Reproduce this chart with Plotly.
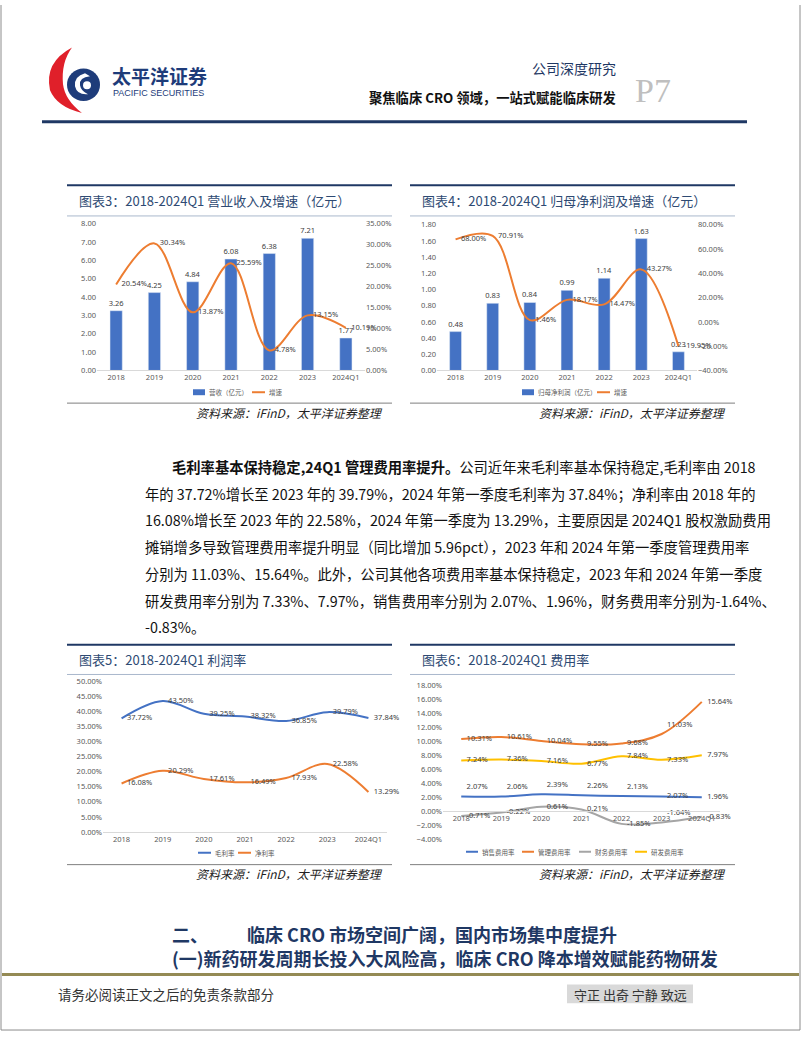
import plotly.graph_objects as go

W, H = 802, 1037
def X(px): return px / W
def Y(py): return 1 - py / H

years = ["2018", "2019", "2020", "2021", "2022", "2023", "2024Q1"]
# Chart 3
revenue = [3.26, 4.25, 4.84, 6.08, 6.38, 7.21, 1.77]
revenue_growth = [20.54, 30.34, 13.87, 25.59, 4.78, 13.15, 10.19]
# Chart 4
net_profit = [0.48, 0.83, 0.84, 0.99, 1.14, 1.63, 0.23]
profit_growth = [68.00, 70.91, 1.46, 18.17, 14.47, 43.27, -19.95]
# Chart 5
gross_margin = [37.72, 43.50, 39.25, 38.32, 36.85, 39.79, 37.84]
net_margin = [16.08, 20.29, 17.61, 16.49, 17.93, 22.58, 13.29]
# Chart 6
sales_rate = [2.07, 2.06, 2.39, 2.26, 2.13, 2.07, 1.96]
admin_rate = [10.31, 10.61, 10.04, 9.55, 9.68, 11.03, 15.64]
fin_rate = [-0.71, -0.22, 0.61, 0.21, -1.85, -1.64, -0.83]
rd_rate = [7.24, 7.36, 7.16, 6.77, 7.84, 7.33, 7.97]

BLUE = "#4472C4"; ORANGE = "#ED7D31"; GRAY = "#A5A5A5"; YELLOW = "#FFC000"
TICK = dict(size=7.5, color="#595959", family="Noto Sans")
LBL = dict(size=7.5, color="#404040", family="Noto Sans")
CJK = "Noto Sans CJK SC"
NAVY = "#1F3864"
HIDDEN = dict(size=7, opacity=0)

def pct(v): return [f"{x:.2f}%" for x in v]

fig = go.Figure()

def curve(xa, ya, vals, name, color, pos):
    fig.add_trace(go.Scatter(x=years, y=vals, name=name, mode="lines+markers+text",
                             line=dict(color=color, width=2, shape="spline", smoothing=1),
                             marker=HIDDEN, text=pct(vals), textposition=pos, textfont=LBL,
                             cliponaxis=False, xaxis=xa, yaxis=ya))

# ---- Chart 3 ----
fig.add_trace(go.Bar(x=years, y=revenue, name="营收（亿元）", marker_color=BLUE,
                     text=[f"{v:.2f}" for v in revenue], textposition="outside", constraintext="none",
                     textfont=LBL, cliponaxis=False, xaxis="x", yaxis="y"))
curve("x", "y2", revenue_growth, "增速", ORANGE, "middle right")
# ---- Chart 4 ----
fig.add_trace(go.Bar(x=years, y=net_profit, name="归母净利润（亿元）", marker_color=BLUE,
                     text=[f"{v:.2f}" for v in net_profit], textposition="outside", constraintext="none",
                     textfont=LBL, cliponaxis=False, xaxis="x2", yaxis="y3"))
curve("x2", "y4", profit_growth, "增速", ORANGE, "middle right")
# ---- Chart 5 ----
curve("x3", "y5", gross_margin, "毛利率", BLUE, "middle right")
curve("x3", "y5", net_margin, "净利率", ORANGE, "middle right")
# ---- Chart 6 ----
series6 = [("销售费用率", sales_rate, BLUE,
            ["top right"] * 5 + ["middle right", "middle right"]),
           ("管理费用率", admin_rate, ORANGE,
            ["middle right"] * 5 + ["top right", "middle right"]),
           ("财务费用率", fin_rate, GRAY,
            ["middle right"] * 5 + ["top right", "middle right"]),
           ("研发费用率", rd_rate, YELLOW, ["middle right"] * 7)]
for name, vals, col, pos in series6:
    curve("x4", "y6", vals, name, col, pos)

def xax(l, r, **kw):
    d = dict(domain=[X(l), X(r)], type="category", tickfont=TICK, showgrid=False,
             showline=True, linecolor="#D9D9D9", ticks="", fixedrange=True)
    d.update(kw); return d
def yax(t, b, rng, dtick, fmt, **kw):
    d = dict(domain=[Y(b), Y(t)], range=rng, dtick=dtick, tickformat=fmt, tickfont=TICK,
             showgrid=False, zeroline=False, showline=False, ticks="")
    d.update(kw); return d

r6 = [-4, 18]
dom6 = [Y(842), Y(687)]
zero6 = dom6[0] + (0 - r6[0]) / (r6[1] - r6[0]) * (dom6[1] - dom6[0])

fig.update_layout(
    width=W, height=H, margin=dict(l=0, r=0, t=0, b=0),
    paper_bgcolor="white", plot_bgcolor="rgba(0,0,0,0)", barmode="group", bargap=0.68,
    xaxis=xax(97, 365, anchor="y"),
    yaxis=yax(221, 369, [0, 8], 1, ".2f", anchor="x"),
    yaxis2=yax(221, 369, [0, 35], 5, ".2f", ticksuffix="%", overlaying="y", side="right", anchor="x"),
    xaxis2=xax(437, 697, anchor="y3"),
    yaxis3=yax(222, 369, [0, 1.8], 0.2, ".2f", anchor="x2"),
    yaxis4=yax(222, 369, [-40, 80], 20, ".2f", ticksuffix="%", overlaying="y3", side="right", anchor="x2"),
    xaxis3=xax(103, 387, anchor="y5"),
    yaxis5=yax(683, 835, [0, 50], 5, ".2f", ticksuffix="%", anchor="x3"),
    xaxis4=xax(443, 720, anchor="free", position=zero6),
    yaxis6=dict(domain=dom6, range=r6, dtick=2, tickformat=".2f", ticksuffix="%", tickfont=TICK,
                showgrid=False, zeroline=False, showline=False, ticks="", anchor="x4"),
    showlegend=False,
)

shapes = []
ann = []
def line(x0, y0, x1, y1, color, width):
    shapes.append(dict(type="line", xref="paper", yref="paper", x0=X(x0), y0=Y(y0), x1=X(x1), y1=Y(y1),
                       line=dict(color=color, width=width)))
def rect(x0, y0, x1, y1, color):
    shapes.append(dict(type="rect", xref="paper", yref="paper", x0=X(x0), y0=Y(y1), x1=X(x1), y1=Y(y0),
                       fillcolor=color, line=dict(width=0)))
def text(x, y, s, size, color="#000", anchor="left", family=CJK, **kw):
    ann.append(dict(x=X(x), y=Y(y), xref="paper", yref="paper", text=s, showarrow=False,
                    xanchor=anchor, yanchor="middle", font=dict(size=size, color=color, family=family, **kw)))

# legends (drawn manually, names taken from the traces)
names = [t.name for t in fig.data]
LEGC = "#595959"; LEGS = 6.5
def leg_bar(x0, y, name, color):
    rect(x0, y - 3, x0 + 12, y + 3, color); text(x0 + 14, y, name, LEGS, LEGC)
def leg_line(x0, y, name, color, length=13):
    line(x0, y, x0 + length, y, color, 2); text(x0 + length + 2, y, name, LEGS, LEGC)
leg_bar(193, 391, names[0], BLUE); leg_line(252, 391, names[1], ORANGE)
leg_bar(522, 391, names[2], BLUE); leg_line(597, 391, names[3], ORANGE)
leg_line(198, 856, names[4], BLUE); leg_line(238, 856, names[5], ORANGE)
for x0, (nm, _, col, _) in zip([466, 522, 579, 635], series6):
    leg_line(x0, 855, nm, col, 12)

# page border
line(1, 0, 1, 1035, "#8C8C8C", 1)
line(800, 0, 800, 1035, "#8C8C8C", 1)
line(1, 1035, 800, 1035, "#8C8C8C", 1)

# header
line(42, 118, 747, 118, NAVY, 3)
text(618, 64, "公司深度研究", 14, NAVY, "right")
text(618, 93, "<b>聚焦临床 CRO 领域，一站式赋能临床研发</b>", 13.3, "#111", "right")
text(633, 86, "P7", 34, "#BFBFBF", "left", family="Liberation Serif")
text(110, 71, "<b>太平洋证券</b>", 19, "#1E3C7A")
text(111, 88.5, "PACIFIC SECURITIES", 9, "#1E3C7A", family="Liberation Sans")

def C(cmds):
    out = []
    for c in cmds:
        if isinstance(c, str): out.append(c)
        else: out.append(f"{X(c[0])},{Y(c[1])}")
    return " ".join(out)
# red crescent
shapes.append(dict(type="path", xref="paper", yref="paper",
                   path=C(["M", (72, 43), "Q", (44, 58), (50, 86), "Q", (57, 103), (82, 109),
                           "Q", (65, 96), (63, 80), "Q", (61, 58), (72, 43), "Z"]),
                   fillcolor="#E0202A", line=dict(width=0)))
# blue circle
shapes.append(dict(type="circle", xref="paper", yref="paper", x0=X(67), y0=Y(97), x1=X(100), y1=Y(64),
                   fillcolor="#1E3C7A", line=dict(width=0)))
shapes.append(dict(type="path", xref="paper", yref="paper",
                   path=C(["M", (85, 69), "Q", (74, 72), (75, 82), "Q", (77, 91), (88, 90),
                           "Q", (81, 87), (80, 81), "Q", (79, 73), (90, 72), "Z"]),
                   fillcolor="white", line=dict(width=0)))
shapes.append(dict(type="circle", xref="paper", yref="paper", x0=X(83), y0=Y(85), x1=X(91), y1=Y(77),
                   fillcolor="white", line=dict(width=0)))

# chart frames
for (l, r, top, sub, src, srcy, title) in [
    (67, 392, 182, 213, 402, 411, "图表3：2018-2024Q1 营业收入及增速（亿元）"),
    (410, 735, 182, 213, 402, 411, "图表4：2018-2024Q1 归母净利润及增速（亿元）"),
    (67, 392, 646, 676, 868, 877, "图表5：2018-2024Q1 利润率"),
    (410, 735, 646, 676, 868, 877, "图表6：2018-2024Q1 费用率")]:
    line(l, top, r, top, NAVY, 2)
    line(l, sub, r, sub, "#A9B8CC", 1)
    line(l, src, r, src, "#7F7F7F", 1)
    text(l + 10, (top + sub) / 2, title, 13, "#2E4A73")
    text(r - 7, srcy, "资料来源：iFinD，太平洋证券整理", 12, "#222", "right", style="italic")

# paragraph
para = [
    (170, "<b>毛利率基本保持稳定,24Q1 管理费用率提升。</b>公司近年来毛利率基本保持稳定,毛利率由 2018"),
    (143, "年的 37.72%增长至 2023 年的 39.79%，2024 年第一季度毛利率为 37.84%；净利率由 2018 年的"),
    (143, "16.08%增长至 2023 年的 22.58%，2024 年第一季度为 13.29%，主要原因是 2024Q1 股权激励费用"),
    (143, "摊销增多导致管理费用率提升明显（同比增加 5.96pct），2023 年和 2024 年第一季度管理费用率"),
    (143, "分别为 11.03%、15.64%。此外，公司其他各项费用率基本保持稳定，2023 年和 2024 年第一季度"),
    (143, "研发费用率分别为 7.33%、7.97%，销售费用率分别为 2.07%、1.96%，财务费用率分别为-1.64%、"),
    (143, "-0.83%。"),
]
for i, (x0, s) in enumerate(para):
    text(x0, 466 + 27 * i, s, 14.3, "#111")

# section headings
text(170, 938, "<b>二、</b>", 18, NAVY)
text(245, 938, "<b>临床 CRO 市场空间广阔，国内市场集中度提升</b>", 18, NAVY)
text(170, 962, "<b>(一)新药研发周期长投入大风险高，临床 CRO 降本增效赋能药物研发</b>", 18, NAVY)
line(2, 979, 799, 979, "#948A54", 3)
text(56, 999, "请务必阅读正文之后的免责条款部分", 13.5, "#333")
rect(567, 989, 693, 1008, "#D9D9D9")
text(630, 999, "守正 出奇 宁静 致远", 13, "#333", "center")

fig.update_layout(shapes=shapes, annotations=ann)
fig.write_html("out.html")
